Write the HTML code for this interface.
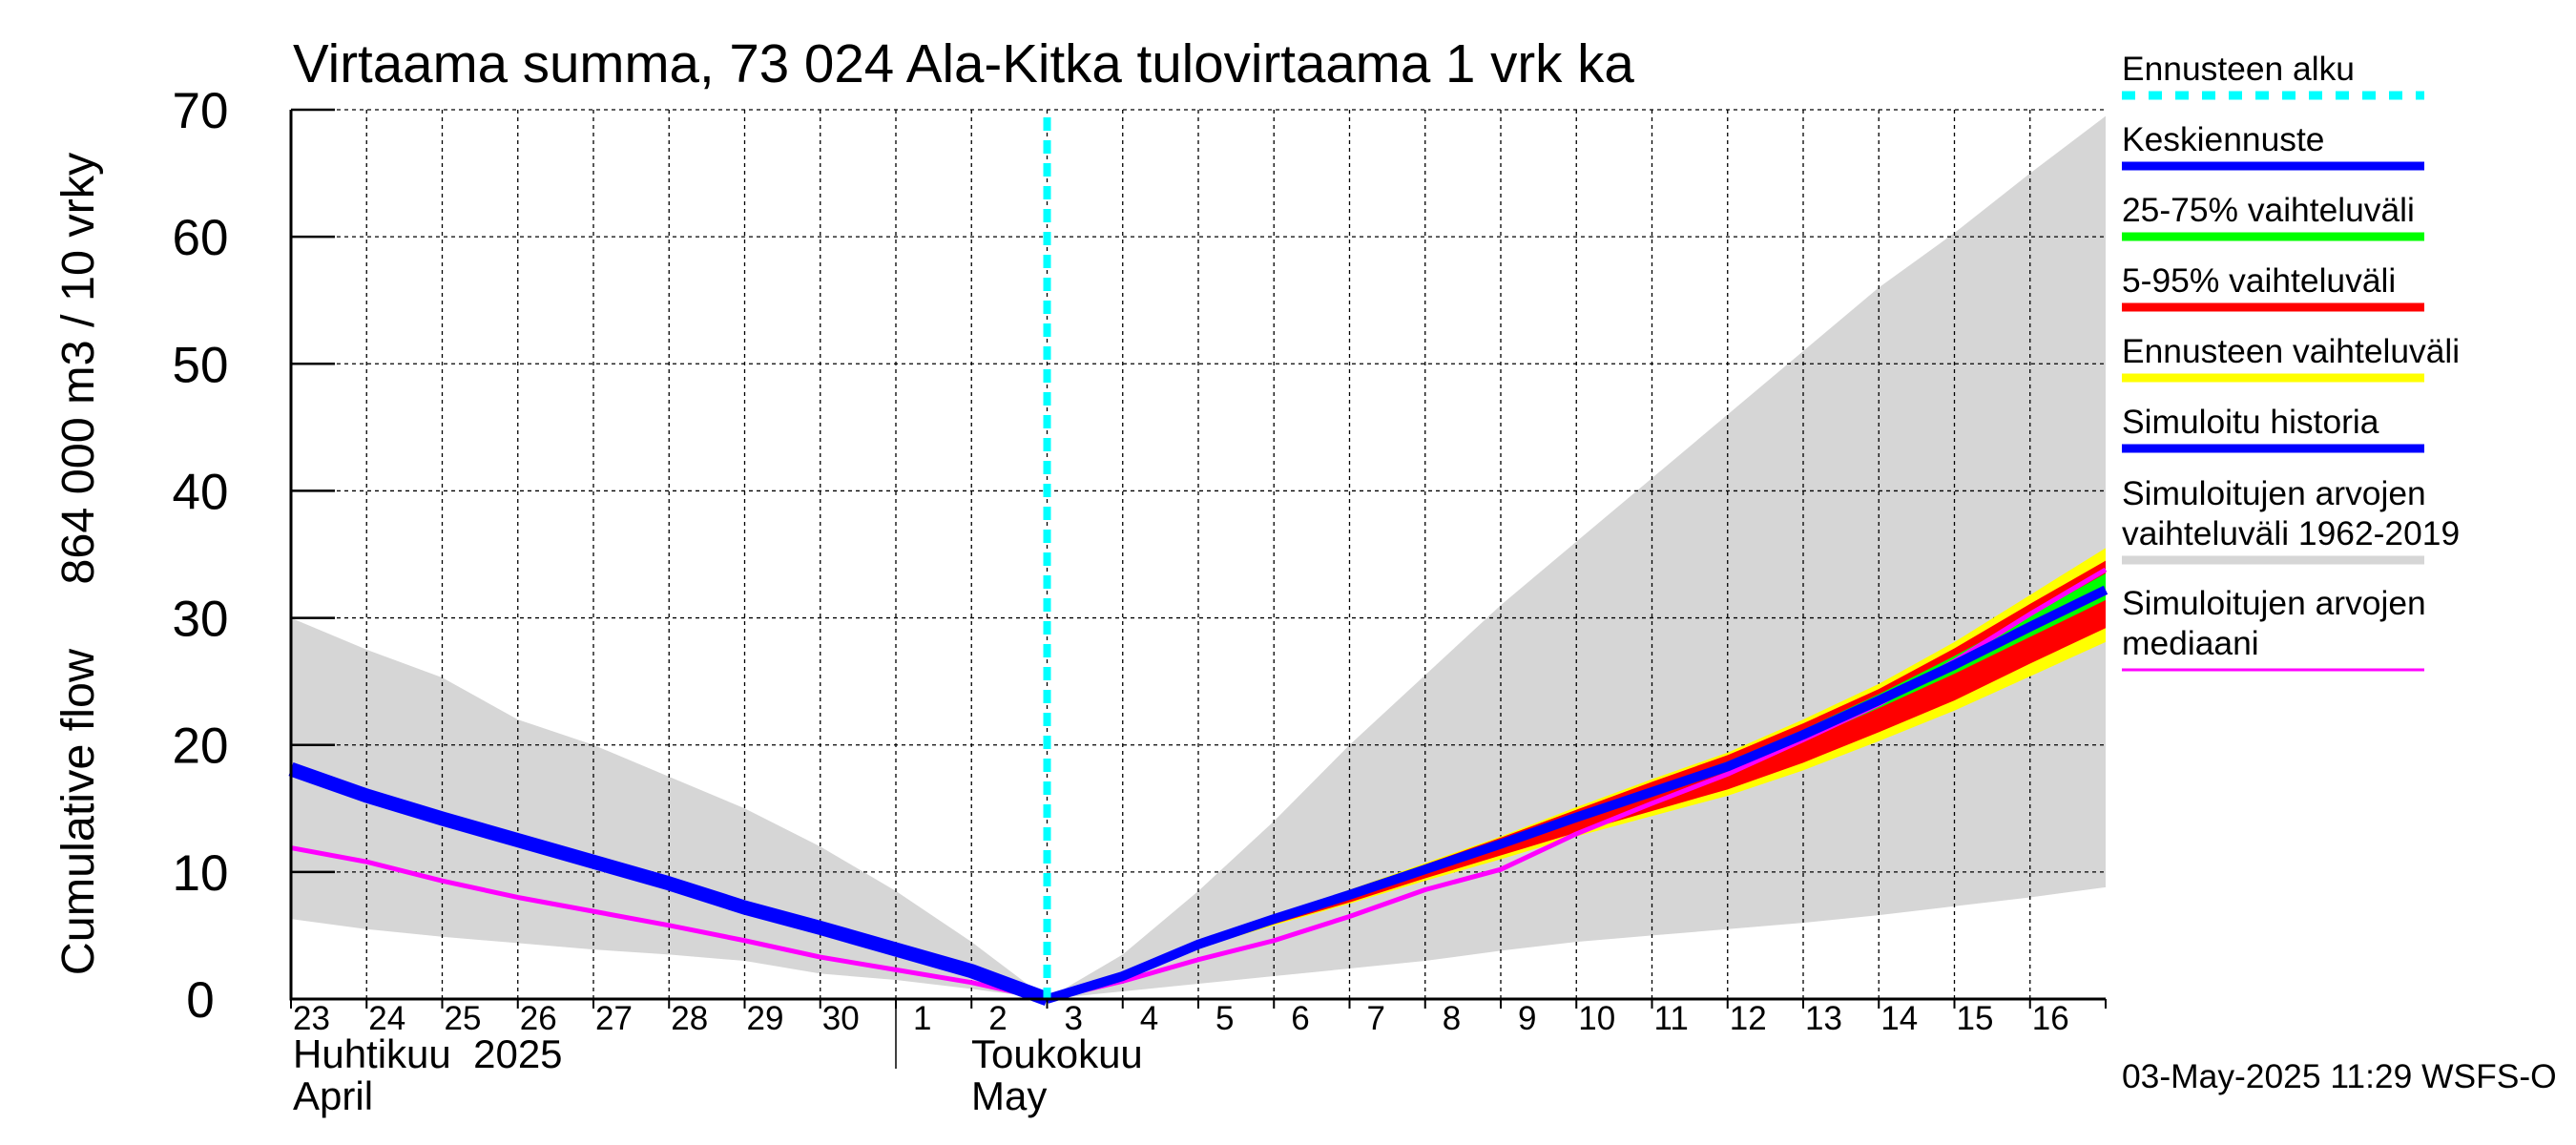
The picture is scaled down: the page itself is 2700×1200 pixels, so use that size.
<!DOCTYPE html>
<html><head><meta charset="utf-8"><style>
html,body{margin:0;padding:0;background:#fff}
svg{display:block;font-family:"Liberation Sans",sans-serif}
</style></head><body>
<svg id="chart" width="2700" height="1200" viewBox="0 0 2700 1200">
<g id="bands"></g>
<g id="grid"></g>
<g id="series"></g>
<g id="axes"></g>
<text x="307" y="86" font-size="56.5">Virtaama summa, 73 024 Ala-Kitka tulovirtaama 1 vrk ka</text>
<text transform="translate(98,591) rotate(-90)" text-anchor="middle" font-size="48.5" xml:space="preserve">Cumulative flow     864 000 m3 / 10 vrky</text>
<text x="307" y="1119" font-size="42" xml:space="preserve">Huhtikuu  2025</text>
<text x="307" y="1163" font-size="42">April</text>
<text x="1018" y="1119" font-size="42">Toukokuu</text>
<text x="1018" y="1163" font-size="42">May</text>
<text x="2224" y="1140" font-size="35.4">03-May-2025 11:29 WSFS-O</text>
<g id="legend"></g>
</svg>
<script>
const dayLabels=["23","24","25","26","27","28","29","30","1","2","3","4","5","6","7","8","9","10","11","12","13","14","15","16"];
const yTicks=[0,10,20,30,40,50,60,70];
const histDays=[0,1,2,3,4,5,6,7,8,9,10];
const histSim=[18.1,16.0,14.2,12.5,10.8,9.1,7.2,5.6,3.9,2.2,0];
const histMedian=[11.9,10.8,9.3,8.0,6.9,5.8,4.6,3.3,2.3,1.3,0];
const histRangeHi=[30,27.5,25.3,22,20,17.5,15,12,8.5,4.5,0];
const histRangeLo=[6.3,5.5,4.9,4.4,3.9,3.5,3.0,2.0,1.5,0.8,0];
const fcDays=[10,11,12,13,14,15,16,17,18,19,20,21,22,23,24];
const fcCentral=[0,1.8,4.3,6.3,8.2,10.2,12.2,14.3,16.3,18.3,20.8,23.5,26.3,29.3,32.2];
const fcYellowHi=[0,1.9,4.5,6.6,8.6,10.7,12.8,15.1,17.3,19.4,22.0,24.8,28.1,31.8,35.5];
const fcYellowLo=[0,1.7,4.0,5.8,7.5,9.3,11.0,12.8,14.4,16.0,18.0,20.3,22.7,25.4,28.1];
const fcRedHi=[0,1.9,4.4,6.5,8.5,10.6,12.7,14.9,17.1,19.2,21.7,24.4,27.6,31.1,34.5];
const fcRedLo=[0,1.7,4.1,5.9,7.6,9.5,11.3,13.1,14.8,16.5,18.6,21.0,23.5,26.4,29.2];
const fcGreenHi=[0,1.85,4.35,6.4,8.35,10.4,12.4,14.6,16.6,18.7,21.2,24.0,27.0,30.2,33.5];
const fcGreenLo=[0,1.75,4.2,6.2,8.05,10.0,12.0,14.0,16.0,17.9,20.3,22.9,25.6,28.5,31.4];
const fcMedian=[0,1.4,3.1,4.6,6.5,8.6,10.2,13.0,15.4,17.7,20.4,23.2,26.6,30.3,33.8];
const fcRangeHi=[0,3.5,8.5,14,20,25.5,31,36,41,46,51,56,60.3,65,69.5];
const fcRangeLo=[0,0.6,1.2,1.8,2.4,3.0,3.8,4.5,5.0,5.5,6.0,6.6,7.3,8.0,8.8];
const forecastStart=10;

const NS="http://www.w3.org/2000/svg";
const X0=305,X1=2207,Y0=1047,Y1=115,DAYS=24,YMAX=70;
const xs=d=>X0+(X1-X0)*d/DAYS;
const ys=v=>Y0-(Y0-Y1)*v/YMAX;
function mk(tag,attrs,parent){const e=document.createElementNS(NS,tag);for(const k in attrs)e.setAttribute(k,attrs[k]);parent.appendChild(e);return e;}
const bands=document.getElementById('bands'),grid=document.getElementById('grid'),series=document.getElementById('series'),axes=document.getElementById('axes'),legend=document.getElementById('legend');
function area(days,hi,lo,fill,name){let p=days.map((d,i)=>xs(d)+','+ys(hi[i]));for(let i=days.length-1;i>=0;i--)p.push(xs(days[i])+','+ys(lo[i]));const e=mk('polygon',{points:p.join(' '),fill:fill},bands);

return e;}
function line(days,vals,color,w,name,parent){const e=mk('polyline',{points:days.map((d,i)=>xs(d)+','+ys(vals[i])).join(' '),fill:'none',stroke:color,'stroke-width':w,'stroke-linejoin':'round'},parent||series);

return e;}
area(histDays,histRangeHi,histRangeLo,'#d6d6d6','history-range-band');
area(fcDays,fcRangeHi,fcRangeLo,'#d6d6d6','forecast-range-band');
for(let d=1;d<DAYS;d++){const e=mk('line',{x1:xs(d),x2:xs(d),y1:Y1,y2:Y0,stroke:'#000','stroke-width':1.3,'stroke-dasharray':'4,4'},grid);

}
yTicks.forEach(v=>{if(v===0)return;const e=mk('line',{x1:X0,x2:X1,y1:ys(v),y2:ys(v),stroke:'#000','stroke-width':1.3,'stroke-dasharray':'4,4'},grid);

});
function sarea(hi,lo,fill,name){let p=fcDays.map((d,i)=>xs(d)+','+ys(hi[i]));for(let i=fcDays.length-1;i>=0;i--)p.push(xs(fcDays[i])+','+ys(lo[i]));const e=mk('polygon',{points:p.join(' '),fill:fill},series);

}
sarea(fcYellowHi,fcYellowLo,'#ffff00','forecast-full-range');
sarea(fcRedHi,fcRedLo,'#ff0000','forecast-5-95-range');
sarea(fcGreenHi,fcGreenLo,'#00ff00','forecast-25-75-range');
line(histDays,histMedian,'#ff00ff',5,'history-median-line');
line(fcDays,fcMedian,'#ff00ff',5,'forecast-median-line');
line(histDays,histSim,'#0000ff',15,'simulated-history-line');
line(fcDays,fcCentral,'#0000ff',10,'central-forecast-line');
const fl=mk('line',{x1:xs(forecastStart),x2:xs(forecastStart),y1:Y1+8,y2:Y0,stroke:'#00ffff','stroke-width':8,'stroke-dasharray':'14,10'},series);


const ax=mk('path',{d:`M${X0},${Y1} V${Y0} H${X1}`,fill:'none',stroke:'#000','stroke-width':3},axes);


yTicks.forEach(v=>{const t=mk('line',{x1:X0,x2:X0+46,y1:ys(v),y2:ys(v),stroke:'#000','stroke-width':2.5},axes);


const l=mk('text',{x:210,y:ys(v)+19,'text-anchor':'middle','font-size':53},axes);l.textContent=v;

});
for(let d=0;d<=DAYS;d++){const t=mk('line',{x1:xs(d),x2:xs(d),y1:Y0,y2:Y0+10,stroke:'#000','stroke-width':2},axes);

}
dayLabels.forEach((s,i)=>{const l=mk('text',{x:xs(i)+(s.length>1?2:18),y:1079,'font-size':35},axes);l.textContent=s;

});
const ms=mk('line',{x1:xs(8),x2:xs(8),y1:Y0,y2:1120,stroke:'#000','stroke-width':1.5},axes);


const leg=[["Ennusteen alku","#00ffff",100,true],["Keskiennuste","#0000ff",174],["25-75% vaihteluväli","#00ff00",248],["5-95% vaihteluväli","#ff0000",322],["Ennusteen vaihteluväli","#ffff00",396],["Simuloitu historia","#0000ff",470],["Simuloitujen arvojen|vaihteluväli 1962-2019","#d6d6d6",587],["Simuloitujen arvojen|mediaani","#ff00ff",702,false,3]];
leg.forEach(e=>{const [txt,c,y,dash,w]=e;const lines=txt.split('|');
lines.forEach((s,j)=>{const t=mk('text',{x:2224,y:y-16-(lines.length-1-j)*42,'font-size':35.4},legend);t.textContent=s;

});
const l=mk('line',{x1:2224,x2:2541,y1:y,y2:y,stroke:c,'stroke-width':w||9},legend);
if(dash)l.setAttribute('stroke-dasharray','14,14');

});
</script>
</body></html>
